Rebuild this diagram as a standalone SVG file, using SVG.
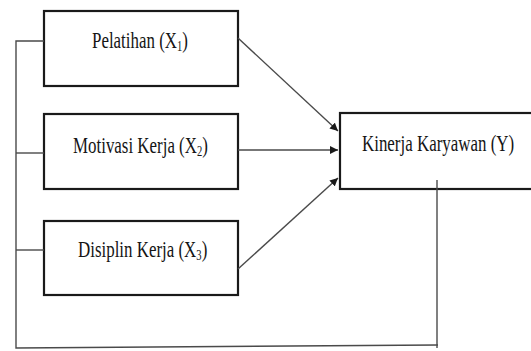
<svg xmlns="http://www.w3.org/2000/svg" width="531" height="351" viewBox="0 0 531 351">
<defs>
<style>
.box{fill:#fff;stroke:#1a1a1a;stroke-width:2.2}
.con{fill:none;stroke:#4a4a4a;stroke-width:1.4}
.lbl{font-family:"Liberation Serif","Times New Roman",serif;font-size:24px;fill:#151515}
.sub{font-size:15px}
</style>
<marker id="ah" viewBox="0 0 10 10" refX="10" refY="5" markerWidth="8" markerHeight="8" markerUnits="userSpaceOnUse" orient="auto">
<path d="M0,0 L10,5 L0,10 z" fill="#1a1a1a"/>
</marker>
</defs>
<rect width="531" height="351" fill="#fff"/>
<g id="x1">
<rect class="box" x="44" y="11" width="194" height="75"/>
<text class="lbl" transform="translate(92,48) scale(0.705,1)">Pelatihan (X<tspan class="sub" dy="3">1</tspan><tspan dy="-3">)</tspan></text>
</g>
<g id="x2">
<rect class="box" x="44" y="114" width="194" height="75"/>
<text class="lbl" transform="translate(73,153) scale(0.705,1)">Motivasi Kerja (X<tspan class="sub" dy="3">2</tspan><tspan dy="-3">)</tspan></text>
</g>
<g id="x3">
<rect class="box" x="44" y="221" width="194" height="74"/>
<text class="lbl" transform="translate(78,257) scale(0.705,1)">Disiplin Kerja (X<tspan class="sub" dy="3">3</tspan><tspan dy="-3">)</tspan></text>
</g>
<g id="y">
<rect class="box" x="340" y="113" width="200" height="76"/>
<text class="lbl" transform="translate(362,151) scale(0.705,1)">Kinerja Karyawan (Y)</text>
</g>
<g id="connectors">
<polyline class="con" points="44,41 16,41 16,348 438,345"/>
<line class="con" x1="16" y1="153" x2="44" y2="153"/>
<line class="con" x1="16" y1="250" x2="44" y2="250"/>
<line class="con" x1="437" y1="180" x2="437" y2="348"/>
<line class="con" x1="238" y1="38" x2="338" y2="131" marker-end="url(#ah)"/>
<line class="con" x1="238" y1="150" x2="338" y2="150" marker-end="url(#ah)"/>
<line class="con" x1="238" y1="269" x2="338" y2="178" marker-end="url(#ah)"/>
</g>
</svg>
